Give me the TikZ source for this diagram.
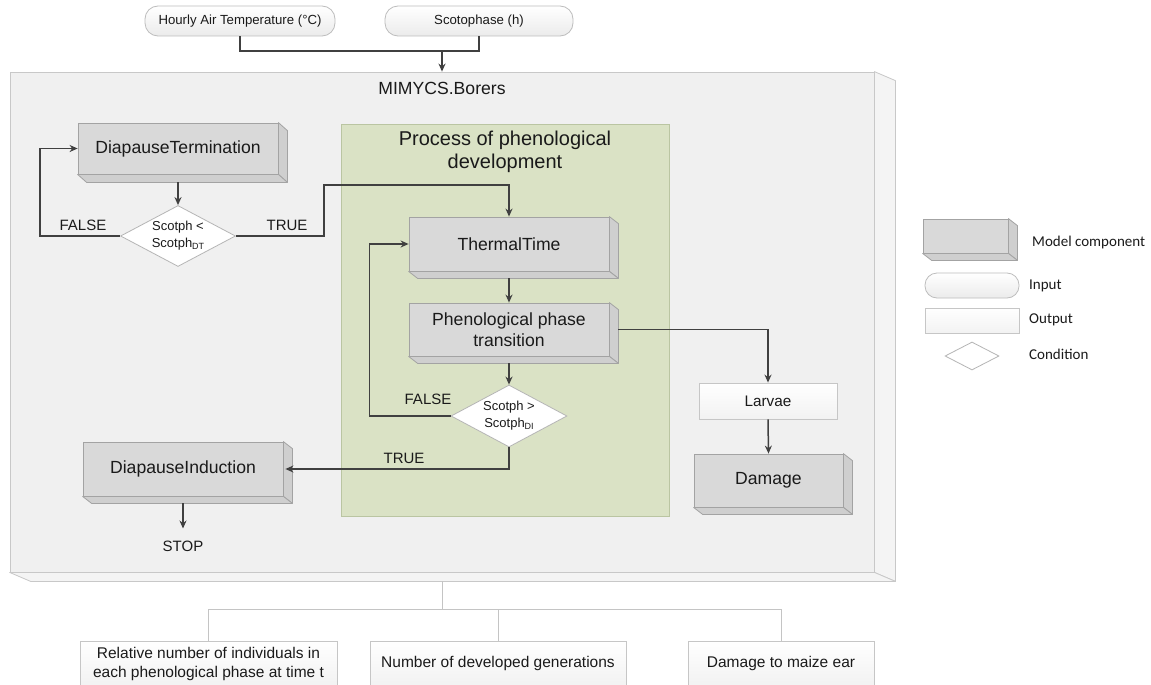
\documentclass[tikz,border=0pt]{standalone}
\usepackage{fontspec}
\setmainfont{Liberation Sans}
\newfontfamily\legfont{Carlito}
\usetikzlibrary{arrows.meta,shapes.geometric,calc}
\definecolor{conncol}{HTML}{404040}
\definecolor{txt}{HTML}{1A1A1A}
\definecolor{compfill}{HTML}{D9D9D9}
\definecolor{compside}{HTML}{CFCFCF}
\definecolor{compedge}{HTML}{A3A3A3}
\definecolor{mainfill}{HTML}{F0F0F0}
\definecolor{mainside}{HTML}{F4F4F4}
\definecolor{mainedge}{HTML}{C8C8C8}
\definecolor{grnfill}{HTML}{DAE2C5}
\definecolor{grnedge}{HTML}{BAC5A2}
\definecolor{inpedge}{HTML}{BDBDBD}
\definecolor{inpbot}{HTML}{EBEBEB}
\definecolor{outedge}{HTML}{C6C6C6}
\definecolor{outbot}{HTML}{F2F2F2}
\definecolor{treecol}{HTML}{C4C4C4}
\newcommand\fs[2]{\fontsize{#1}{#2}\selectfont}
\newcommand\depthfaces[4]{%
  \path[#4] (#1.north east) -- ++(#2,#3) -- ([shift={(#2,#3)}]#1.south east) -- (#1.south east) -- cycle;
  \path[#4] (#1.south west) -- ++(#2,#3) -- ([shift={(#2,#3)}]#1.south east) -- (#1.south east) -- cycle;}
\newcommand\subtxt[1]{\raisebox{-2pt}{\fs{9}{9}#1}}
\tikzset{
  comp/.style={draw=compedge, fill=compfill, line width=0.8pt, inner sep=0pt, align=center, text=txt, font=\fs{17.6}{21}},
  sideface/.style={draw=compedge, fill=compside, line width=0.8pt, line join=round},
  mainface/.style={draw=mainedge, fill=mainside, line width=0.8pt, line join=round},
  inp/.style={draw=inpedge, rounded corners=13pt, top color=white, bottom color=inpbot, line width=0.8pt, inner sep=0pt, text=txt, font=\fs{13.2}{16}},
  outp/.style={draw=outedge, top color=white, bottom color=outbot, line width=0.8pt, inner sep=0pt, align=center, text=txt, font=\fs{15.5}{19}},
  cond/.style={diamond, draw=compedge!80, fill=white, line width=0.8pt, inner sep=0pt},
  condtxt/.style={align=center, text=txt, font=\fs{13}{17}, inner sep=0pt},
  conn/.style={draw=conncol, line width=1.5pt},
  arr/.style={conn, -{Stealth[length=8pt,width=7pt]}},
  tree/.style={draw=treecol, line width=0.9pt},
  lbl/.style={text=txt, font=\fs{15}{18}, inner sep=0pt},
  leg/.style={text=txt, font=\legfont\fs{15}{18}, inner sep=0pt, anchor=west},
}
\begin{document}
\begin{tikzpicture}[x=1pt,y=-1pt]
\useasboundingbox (0,0) rectangle (1151,685);
\fill[white] (0,0) rectangle (1151,685);
\clip (0,0) rectangle (1151,685);

% main box
\node[draw=mainedge, fill=mainfill, line width=0.8pt, minimum width=864pt, minimum height=500pt, inner sep=0pt] (main) at (442,322) {};
\depthfaces{main}{21}{9}{mainface}
\node[text=txt, font=\fs{17.6}{21}, inner sep=0pt] (title) at (442,88) {MIMYCS.Borers};

% green process box
\node[draw=grnedge, fill=grnfill, line width=0.8pt, minimum width=328pt, minimum height=392pt, inner sep=0pt] (grn) at (505,320) {};
\node[align=center, text=txt, font=\fs{20}{23}, inner sep=0pt] (grntitle) at (505,151.5) {Process of phenological\\development};

% inputs
\node[inp, minimum width=190pt, minimum height=30pt] (hat) at (240,21) {Hourly Air Temperature (°C)};
\node[inp, minimum width=188pt, minimum height=30pt] (scot) at (479,21) {Scotophase (h)};
\coordinate (join) at (442,51);
\draw[conn] (hat.south) |- (join) -| (scot.south);
\draw[arr] (join) -- (main.north);

% components
\node[comp, minimum width=200pt, minimum height=51pt] (dt) at (178,148.5) {DiapauseTermination};
\depthfaces{dt}{9}{8}{sideface}
\node[comp, minimum width=200pt, minimum height=54pt] (tt) at (509,244) {ThermalTime};
\depthfaces{tt}{9}{7}{sideface}
\node[comp, minimum width=200pt, minimum height=53pt] (pp) at (509,329.5) {Phenological phase\\transition};
\depthfaces{pp}{9}{7}{sideface}
\node[comp, minimum width=200pt, minimum height=54pt] (di) at (183,469) {DiapauseInduction};
\depthfaces{di}{9}{7}{sideface}
\node[comp, minimum width=149pt, minimum height=53pt] (dmg) at (768.5,480.5) {Damage};
\depthfaces{dmg}{9}{7}{sideface}
\node[outp, minimum width=138pt, minimum height=36pt, font=\fs{15.3}{18}] (lar) at (768,401) {Larvae};

% conditions
\node[cond, minimum width=115pt, minimum height=61pt] (c1) at (178,236) {};
\node[condtxt] (c1t) at (178,236) {Scotph <\\Scotph\subtxt{DT}};
\node[cond, minimum width=116pt, minimum height=62pt] (c2) at (509,416) {};
\node[condtxt] (c2t) at (509,416) {Scotph >\\Scotph\subtxt{DI}};

% connectors
\draw[arr] ([yshift=-8pt]dt.south) -- (c1.north);
\draw[arr] (c1.west) -- ++(-80,0) |- (dt.west);
\node[lbl] (f1) at (83,225) {FALSE};
\coordinate (bend1) at (324,185);
\draw[arr] (c1.east) -| (bend1) -| (tt.north);
\node[lbl] (t1) at (287,225) {TRUE};
\draw[arr] ([yshift=-7pt]tt.south) -- (pp.north);
\draw[arr] ([yshift=-7pt]pp.south) -- (c2.north);
\draw[arr] ([xshift=9pt]pp.east) -| (lar.north);
\draw[arr] (c2.west) -- ++(-81,0) |- (tt.west);
\node[lbl] (f2) at (428,399) {FALSE};
\draw[arr] (c2.south) |- ([xshift=2pt]di.east);
\node[lbl] (t2) at (404,458) {TRUE};
\node[lbl] (stop) at (183,546) {STOP};
\draw[arr] ([yshift=-7pt]di.south) -- ([yshift=12pt]stop.north);
\draw[arr] (lar.south) -- (dmg.north);

% outputs
\node[outp, minimum width=257pt, minimum height=45pt] (o1) at (208.5,663.5) {Relative number of individuals in\\each phenological phase at time t};
\node[outp, minimum width=256pt, minimum height=45pt] (o2) at (498,663.5) {Number of developed generations};
\node[outp, minimum width=186pt, minimum height=45pt] (o3) at (781,663.5) {Damage to maize ear};
\coordinate (tjoin) at (442,609);
\draw[tree] ([yshift=-9pt]main.south) -- (tjoin);
\draw[tree] (o1.north) |- (o3.north |- tjoin) -- (o3.north);
\draw[tree] (o2.north) -- (o2.north |- tjoin);

% legend
\node[comp, minimum width=85pt, minimum height=34pt] (lgc) at (965.5,236) {};
\depthfaces{lgc}{9}{7}{sideface}
\node[leg] (lgct) at (1032,242) {Model component};
\node[inp, rounded corners=12pt, minimum width=94pt, minimum height=25pt] (lgi) at (972,285.5) {};
\node[leg] (lgit) at (1029,286) {Input};
\node[outp, minimum width=94pt, minimum height=25pt] (lgo) at (972,320.5) {};
\node[leg] (lgot) at (1029,320) {Output};
\node[cond, minimum width=54pt, minimum height=28pt] (lgd) at (972,356) {};
\node[leg] (lgdt) at (1029,354) {Condition};
\end{tikzpicture}
\end{document}
